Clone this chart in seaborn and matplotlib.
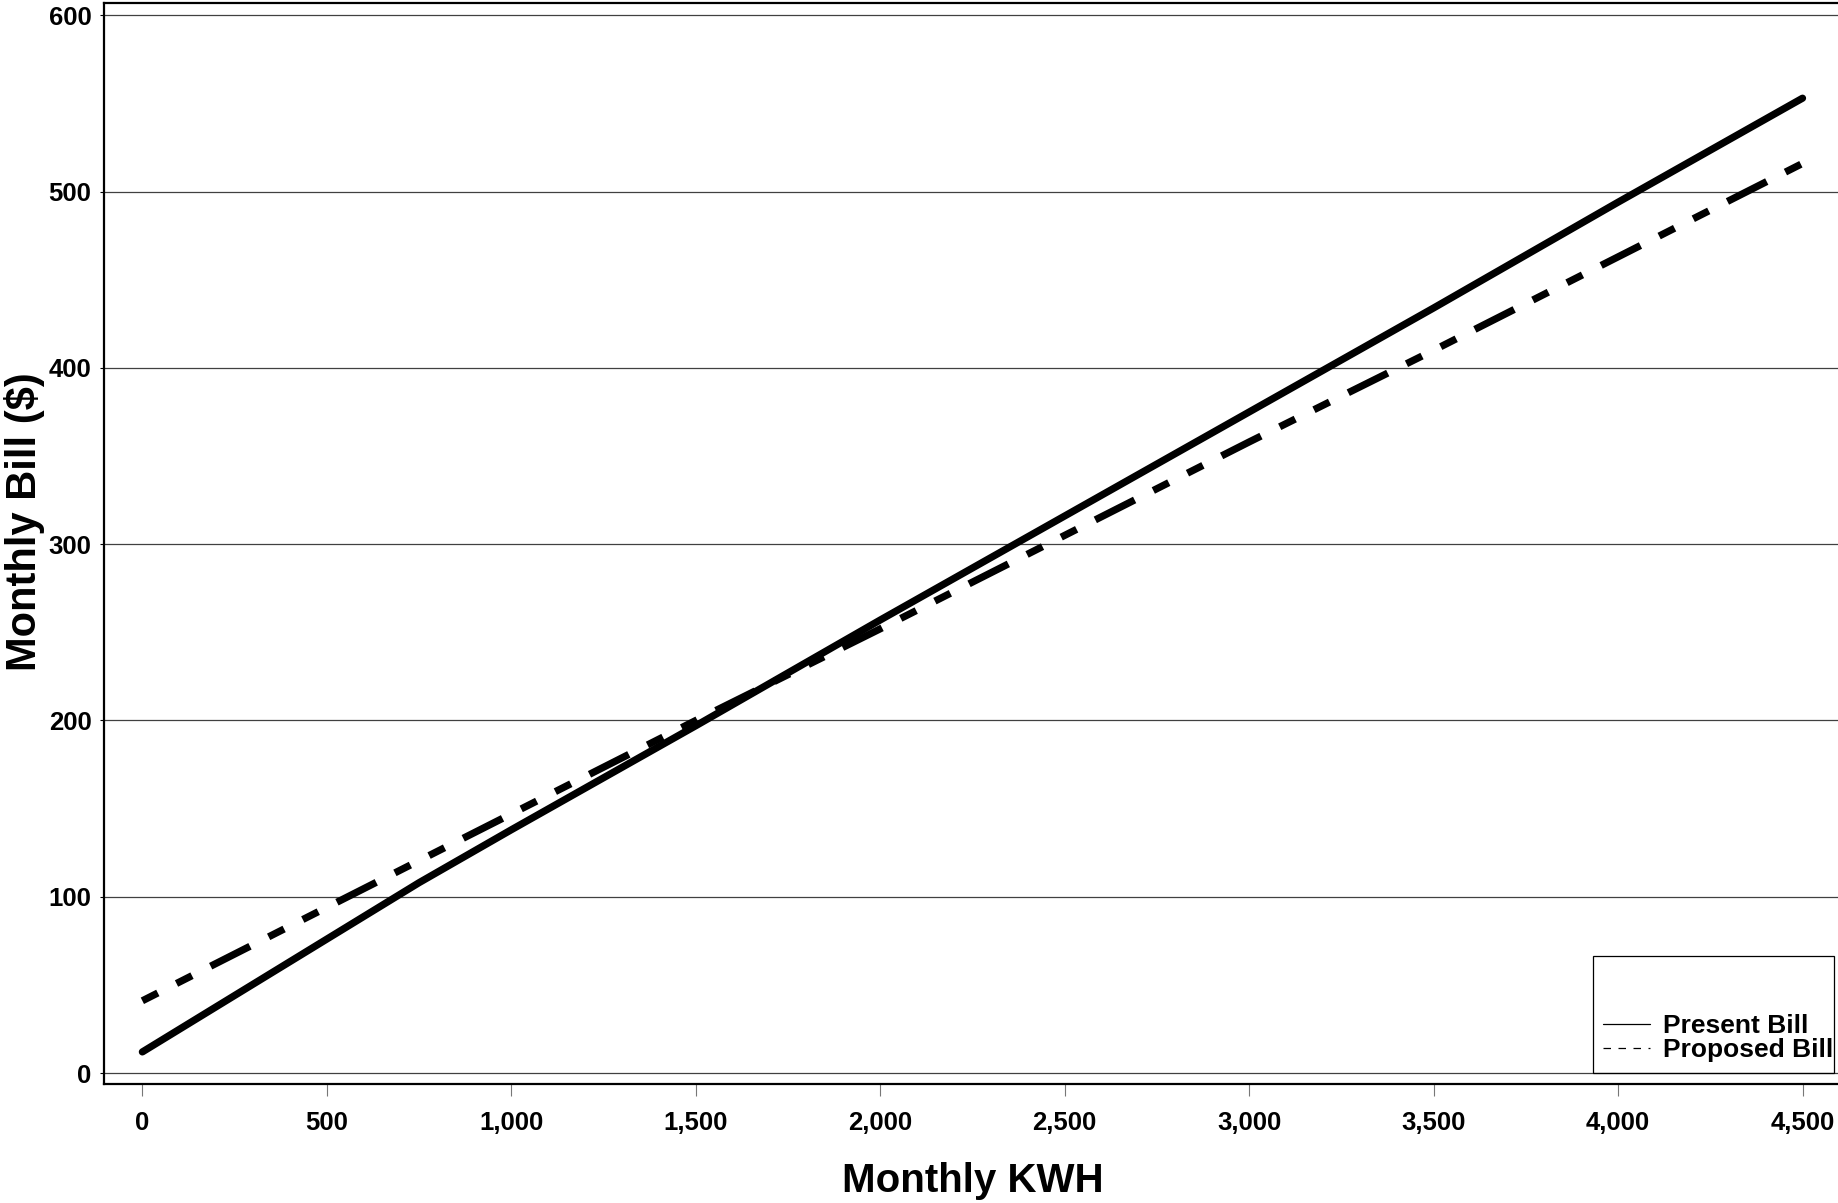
import matplotlib
matplotlib.use("Agg")
import matplotlib.pyplot as plt
from matplotlib.lines import Line2D
from matplotlib.patches import Rectangle
import seaborn as sns
import pandas as pd

# ---- data ----
present_kwh = [0, 500, 750, 1000, 1500, 2000, 2500, 3000, 3500, 4000, 4500]
present_bill = [12, 76, 108, 138, 197, 257, 316, 375, 434, 494, 553]
proposed_kwh = [0, 500, 1000, 1500, 2000, 2500, 3000, 3500, 4000, 4500]
proposed_bill = [41, 94, 147, 200, 252, 305, 358, 410, 463, 516]
series_names = ["Present Bill", "Proposed Bill"]
x_ticks = [0, 500, 1000, 1500, 2000, 2500, 3000, 3500, 4000, 4500]
x_tick_labels = ["0", "500", "1,000", "1,500", "2,000", "2,500", "3,000", "3,500", "4,000", "4,500"]
y_ticks = [0, 100, 200, 300, 400, 500, 600]
y_tick_labels = ["0", "100", "200", "300", "400", "500", "600"]
x_title = "Monthly KWH"
y_title = "Monthly Bill ($)"

df = pd.concat([
    pd.DataFrame({"kwh": present_kwh, "bill": present_bill, "series": series_names[0]}),
    pd.DataFrame({"kwh": proposed_kwh, "bill": proposed_bill, "series": series_names[1]}),
], ignore_index=True)

sns.set_style("white")
plt.rcParams["font.family"] = ["Liberation Sans", "DejaVu Sans"]
plt.rcParams["font.weight"] = "bold"
plt.rcParams["text.color"] = "black"
plt.rcParams["axes.labelcolor"] = "black"
plt.rcParams["xtick.color"] = "black"
plt.rcParams["ytick.color"] = "black"

fig = plt.figure(figsize=(18.38, 12.03), dpi=100)
ax = fig.add_axes([104 / 1838, 1 - 1084 / 1203, 1738 / 1838, 1081 / 1203])

sns.lineplot(
    data=df, x="kwh", y="bill", hue="series", style="series",
    palette={series_names[0]: "black", series_names[1]: "black"},
    dashes={series_names[0]: "", series_names[1]: (2.4, 2.9, 2.4, 2.9, 6.1, 2.9)},
    linewidth=5.2, legend=False, ax=ax,
    solid_capstyle="round", dash_capstyle="butt", estimator=None, sort=False,
)

ax.set_xlim(-104, 4607)
ax.set_ylim(-6.2, 607)

ax.set_xticks(x_ticks)
ax.set_xticklabels(x_tick_labels, fontsize=18.5, fontweight="bold", color="black")
ax.set_yticks(y_ticks)
ax.set_yticklabels(y_tick_labels, fontsize=18.5, fontweight="bold", color="black")
ax.tick_params(axis="x", which="major", bottom=True, length=8.5, width=0.8,
               color="#777777", labelcolor="black", pad=11)
ax.tick_params(axis="y", which="major", left=True, length=3, width=0.8,
               color="black", labelcolor="black", pad=6)

ax.grid(axis="y", color="#404040", linewidth=0.9)
ax.grid(axis="x", visible=False)
ax.set_axisbelow(True)

for side in ["left", "bottom", "top", "right"]:
    ax.spines[side].set_visible(True)
    ax.spines[side].set_color("black")
    ax.spines[side].set_linewidth(1.6)

ax.set_xlabel(x_title, fontsize=29, fontweight="bold", color="black")
ax.set_ylabel(y_title, fontsize=30, fontweight="bold", color="black")
ax.xaxis.set_label_coords(0.5, -0.090)
ax.xaxis.label.set_va("center")
ax.yaxis.set_label_coords(-0.046, 0.52)
ax.yaxis.label.set_va("center")
ax.yaxis.label.set_ha("center")

# legend box
ax.add_patch(Rectangle((0.857, 0.0102), 0.9954 - 0.857, 0.1187 - 0.0102,
                       transform=ax.transAxes, fill=False, edgecolor="black",
                       linewidth=0.9, zorder=5))
handles = [
    Line2D([0], [0], color="black", linewidth=0.9),
    Line2D([0], [0], color="black", linewidth=0.9, dashes=(6, 6)),
]
leg = ax.legend(handles, series_names, loc="lower left",
                bbox_to_anchor=(0.8625, 0.0205), frameon=False,
                prop={"weight": "bold", "size": 19},
                borderpad=0, borderaxespad=0, handlelength=1.78,
                handletextpad=0.48, labelspacing=0.0)
for t in leg.get_texts():
    t.set_color("black")

fig.savefig("out.png", dpi=100)
